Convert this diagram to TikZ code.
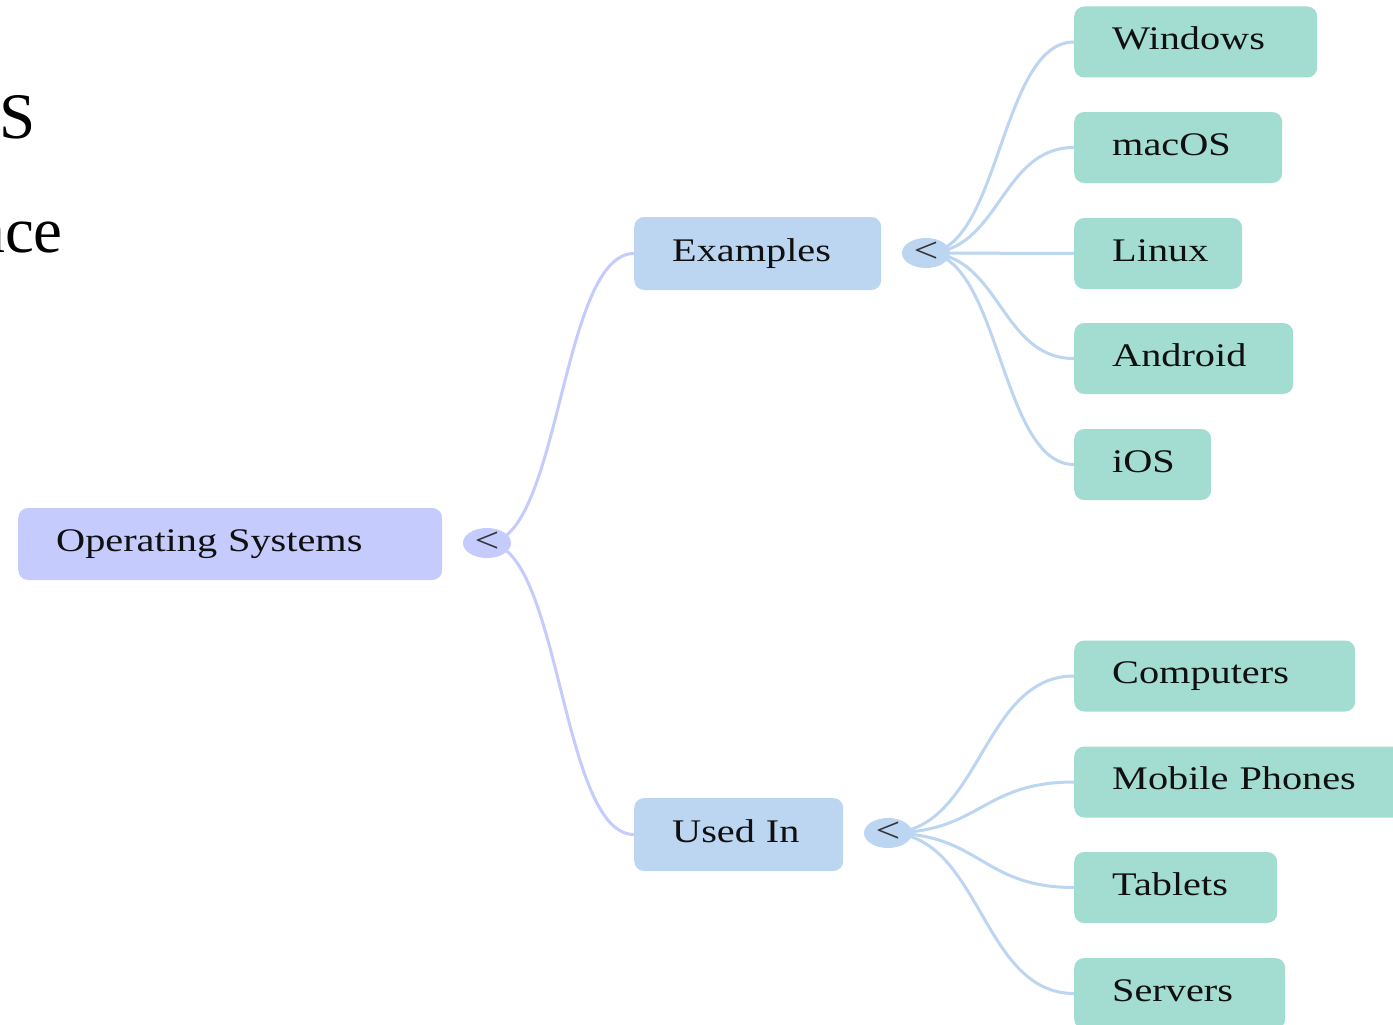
\documentclass[tikz,border=0pt]{standalone}
\usepackage{fontspec}
\setmainfont{Liberation Serif}
\newfontfamily\nodefont[FakeStretch=1.22]{Liberation Serif}
\usetikzlibrary{shapes.geometric,backgrounds}
\definecolor{rootc}{HTML}{C5CBFC}
\definecolor{midc}{HTML}{BCD5F0}
\definecolor{leafc}{HTML}{A3DCD0}
\definecolor{txtc}{HTML}{101010}
\begin{document}
\begin{tikzpicture}[x=1pt,y=-1pt,
  box/.style={rectangle, rounded corners=10pt, anchor=west, inner xsep=38pt, inner ysep=0pt,
    text height=22pt, text depth=7pt, align=left, text=txtc,
    font=\nodefont\fontsize{33}{40}\selectfont},
  rootbox/.style={box, fill=rootc, minimum height=72pt},
  midbox/.style={box, fill=midc, minimum height=73pt},
  leafbox/.style={box, fill=leafc, minimum height=71pt},
  toggle/.style={ellipse, minimum width=48pt, minimum height=30pt, inner sep=0pt,
    text height=18pt, text depth=0pt, text=txtc!85,
    font=\nodefont\fontsize{36}{36}\selectfont},
  rootlink/.style={draw=rootc, line width=3pt},
  leaflink/.style={draw=midc, line width=3pt},
  bigtext/.style={inner sep=0pt, anchor=base east, text=black, font=\fontsize{65}{70}\selectfont}]
\useasboundingbox (0,0) rectangle (1393,1025);
\clip (0,0) rectangle (1393,1025);

% background slide text (cut off)
\node[bigtext] (bgS) at (36,138) {S};
\node[bigtext] (bgace) at (63,252) {ace};

% root
\node[rootbox, text width=348pt] (root) at (18,544) {Operating Systems};
\node[toggle, fill=rootc] (rootcirc) at (487,543) {<};

% level 1
\node[midbox, text width=171pt] (ex) at (634,253.5) {Examples};
\node[toggle, fill=midc] (excirc) at (926,253) {<};
\node[midbox, text width=133pt] (used) at (634,834.5) {Used In};
\node[toggle, fill=midc] (usedcirc) at (888,833) {<};

% leaves of Examples
\node[leafbox, text width=167pt] (win) at (1074,42) {Windows};
\node[leafbox, text width=132pt] (mac) at (1074,147.5) {macOS};
\node[leafbox, text width=92pt] (lin) at (1074,253.5) {Linux};
\node[leafbox, text width=143pt] (and) at (1074,358.5) {Android};
\node[leafbox, text width=61pt] (ios) at (1074,464.5) {iOS};

% leaves of Used In
\node[leafbox, text width=205pt] (comp) at (1074,676) {Computers};
\node[leafbox, text width=254pt] (mob) at (1074,782) {Mobile Phones};
\node[leafbox, text width=127pt] (tab) at (1074,887.5) {Tablets};
\node[leafbox, text width=135pt] (serv) at (1074,993.5) {Servers};

\begin{scope}[on background layer]
  \draw[rootlink] (rootcirc.center) .. controls +(73.5,0) and +(-73.5,0) .. (ex.west);
  \draw[rootlink] (rootcirc.center) .. controls +(73.5,0) and +(-73.5,0) .. (used.west);
  \foreach \t in {win,mac,lin,and,ios}
    \draw[leaflink] (excirc.center) .. controls +(74,0) and +(-74,0) .. (\t.west);
  \foreach \t in {comp,mob,tab,serv}
    \draw[leaflink] (usedcirc.center) .. controls +(93,0) and +(-93,0) .. (\t.west);
\end{scope}
\end{tikzpicture}
\end{document}
